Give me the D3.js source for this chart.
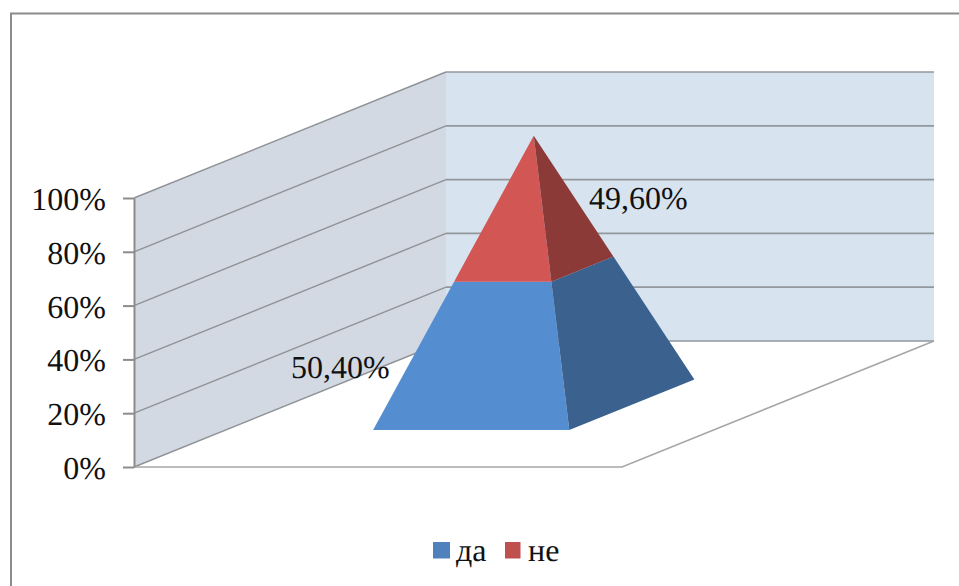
<!DOCTYPE html>
<html lang="sr">
<head>
<meta charset="utf-8">
<script src="https://cdn.jsdelivr.net/npm/d3@7"></script>
<style>
html,body{margin:0;padding:0;background:#fff;overflow:hidden}
svg{display:block}
text{font-family:"Liberation Serif","Times New Roman",serif;fill:#111;text-rendering:geometricPrecision}
</style>
</head>
<body>
<svg id="chart" width="959" height="586"></svg>
<script>
// Chart values
const categories = ["да", "не"];
const shares = [50.4, 49.6];
const axisTicks = [0, 20, 40, 60, 80, 100];

// Colours per series: front face, side face, legend key
const frontColors = ["#558ed0", "#d15654"];
const sideColors = ["#3b628f", "#8c3a38"];
const keyColors = ["#4f81bd", "#c0504d"];

const svg = d3.select("#chart");
const FONT = 32;

// Oblique projection: value is vertical, run goes across the floor, depth recedes up and right
const yScale = d3.scaleLinear().domain([0, 100]).range([467, 198]);
const runScale = d3.scaleLinear().domain([0, 1]).range([0, 488]);
const depthX = d3.scaleLinear().domain([0, 1]).range([0, 312]);
const depthY = d3.scaleLinear().domain([0, 1]).range([0, -126]);
const ORIGIN_X = 134;

function project(run, depth, value) {
  return [ORIGIN_X + runScale(run) + depthX(depth), yScale(value) + depthY(depth)];
}
const line = d3.line();
const poly = pts => line(pts) + "Z";

// Outer frame: only top and left edges fall inside the canvas
svg.append("path")
  .attr("d", "M959,13.5H11V586")
  .attr("fill", "none").attr("stroke", "#8c8c8c").attr("stroke-width", 2);

// Walls
svg.append("path")
  .attr("d", poly([project(0, 1, 0), project(1, 1, 0), project(1, 1, 100), project(0, 1, 100)]))
  .attr("fill", "#d7e3ef");
svg.append("path")
  .attr("d", poly([project(0, 0, 0), project(0, 1, 0), project(0, 1, 100), project(0, 0, 100)]))
  .attr("fill", "#d2d9e2");

// Gridlines along the side wall and across the back wall
axisTicks.forEach(v => {
  svg.append("path")
    .attr("d", line([project(0, 0, v), project(0, 1, v)]))
    .attr("fill", "none").attr("stroke", "#8f9296").attr("stroke-width", 1.4);
  svg.append("path")
    .attr("d", line([project(0, 1, v), project(1, 1, v)]))
    .attr("fill", "none").attr("stroke", "#93979c").attr("stroke-width", 1.7);
});

// Floor edges
svg.append("path")
  .attr("d", line([project(0, 0, 0), project(1, 0, 0), project(1, 1, 0)]))
  .attr("fill", "none").attr("stroke", "#a6a6a6").attr("stroke-width", 1.6);

// Value axis
const axis = d3.axisLeft(yScale)
  .tickValues(axisTicks)
  .tickSize(11)
  .tickSizeOuter(0)
  .tickPadding(17)
  .tickFormat(d => d + "%");
const axisG = svg.append("g").attr("transform", `translate(${ORIGIN_X},0)`).call(axis);
axisG.selectAll("line,path").attr("stroke", "#8c8c8c").attr("stroke-width", 2);
axisG.selectAll("text")
  .attr("font-size", FONT)
  .attr("font-family", "Liberation Serif")
  .attr("fill", "#111")
  .attr("dy", "0.36em");

// Stacked pyramid: base corners sit on the floor, the apex reaches 100%
const base = { left: 0.302, right: 0.704, near: 0.294, far: 0.695 };
const baseFrontLeft = project(base.left, base.near, 0);
const baseFrontRight = project(base.right, base.near, 0);
const baseBackRight = project(base.right, base.far, 0);
const apex = project((base.left + base.right) / 2, (base.near + base.far) / 2, 100);

// Point on a pyramid edge at a given cumulative share
const along = (corner, share) => d3.interpolate(corner, apex)(share / 100);

const stackTops = d3.cumsum(shares);
const stackBottoms = [0, ...stackTops.slice(0, -1)];

categories.forEach((c, i) => {
  const lo = stackBottoms[i], hi = Math.min(stackTops[i], 100);
  svg.append("path")
    .attr("d", poly([along(baseFrontLeft, lo), along(baseFrontRight, lo), along(baseFrontRight, hi), along(baseFrontLeft, hi)]))
    .attr("fill", frontColors[i]);
  svg.append("path")
    .attr("d", poly([along(baseFrontRight, lo), along(baseBackRight, lo), along(baseBackRight, hi), along(baseFrontRight, hi)]))
    .attr("fill", sideColors[i]);
});

// Data labels, decimal comma
const fmt = d3.formatLocale({ decimal: ",", thousands: ".", grouping: [3], currency: ["", ""] }).format(".2f");
const labelAnchors = [[291, 378], [589, 209]];
svg.selectAll("text.value").data(shares).join("text")
  .attr("class", "value")
  .attr("x", (d, i) => labelAnchors[i][0])
  .attr("y", (d, i) => labelAnchors[i][1])
  .attr("font-size", FONT)
  .text(d => fmt(d) + "%");

// Legend
const legendKeys = [433, 505], legendText = [456, 528];
categories.forEach((c, i) => {
  svg.append("rect")
    .attr("x", legendKeys[i]).attr("y", 542)
    .attr("width", i ? 15.5 : 17).attr("height", 16.5)
    .attr("fill", keyColors[i]);
  svg.append("text")
    .attr("x", legendText[i]).attr("y", 561)
    .attr("font-size", FONT)
    .text(c);
});
</script>
</body>
</html>
